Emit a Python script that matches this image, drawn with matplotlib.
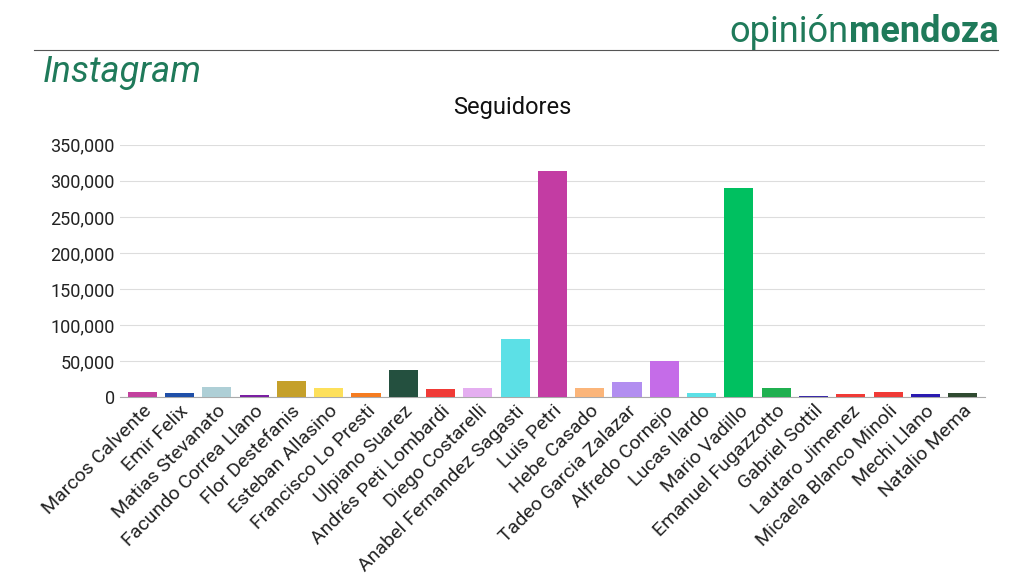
import matplotlib.pyplot as plt
from matplotlib.ticker import FuncFormatter

plt.rcParams["font.family"] = ["Roboto", "DejaVu Sans"]

# Data
nombres = ["Marcos Calvente", "Emir Felix", "Matias Stevanato", "Facundo Correa Llano",
           "Flor Destefanis", "Esteban Allasino", "Francisco Lo Presti", "Ulpiano Suarez",
           "Andrés Peti Lombardi", "Diego Costarelli", "Anabel Fernandez Sagasti", "Luis Petri",
           "Hebe Casado", "Tadeo Garcia Zalazar", "Alfredo Cornejo", "Lucas Ilardo",
           "Mario Vadillo", "Emanuel Fugazzotto", "Gabriel Sottil", "Lautaro Jimenez",
           "Micaela Blanco Minoli", "Mechi Llano", "Natalio Mema"]
seguidores = [7000, 5500, 14000, 3000, 22000, 13000, 6000, 37000, 11000, 13000, 81000,
              313000, 13000, 21000, 50000, 5000, 290000, 12000, 1500, 4000, 7000, 3500, 6000]
colores = ["#c2409e", "#1f4fa8", "#aecfd6", "#7b1fa2", "#c5a02a", "#fde05b", "#f57c20",
           "#24503f", "#f03a36", "#e4aef0", "#5ce0e6", "#c33ca3", "#fbb57a", "#b28ef0",
           "#c56ce8", "#5ce0e6", "#00c060", "#20b050", "#3a2aa8", "#f03a36", "#f03a36",
           "#2a1ab0", "#2f4a30"]

green = "#1f7a5a"
fig = plt.figure(figsize=(10.24, 5.77), dpi=100)
ax = fig.add_axes([0.117, 0.312, 0.845, 0.437])
ax.bar(range(len(nombres)), seguidores, color=colores, width=0.78, zorder=3)
ax.set_ylim(0, 350000)
ax.set_yticks(range(0, 350001, 50000))
ax.yaxis.set_major_formatter(FuncFormatter(lambda v, p: f"{int(v):,}"))
ax.set_xlim(-0.6, len(nombres) - 0.4)
ax.set_xticks(range(len(nombres)))
ax.set_xticklabels(nombres, rotation=45, ha="right", rotation_mode="anchor", fontsize=14, color="#222222")
ax.tick_params(axis="y", labelsize=13, colors="#222222", length=0)
ax.tick_params(axis="x", length=0)
ax.grid(axis="y", color="#dddddd", zorder=0)
for s in ["top", "right", "left"]:
    ax.spines[s].set_visible(False)
ax.spines["bottom"].set_color("#aaaaaa")

fig.text(0.5, 0.813, "Seguidores", ha="center", va="center", fontsize=17, color="#111111")
fig.text(0.042, 0.875, "Instagram", fontsize=26, style="italic", color=green, va="center")

# Logo: "mendoza" right aligned, "opinión" just left of it
m = fig.text(0.975, 0.945, "mendoza", fontsize=26, fontweight="bold", color=green, va="center", ha="right")
fig.canvas.draw()
bb = m.get_window_extent().transformed(fig.transFigure.inverted())
fig.text(bb.x0, 0.945, "opinión", fontsize=26, color=green, va="center", ha="right")

fig.lines.append(plt.Line2D([0.033, 0.975], [0.913, 0.913], color="#555555", lw=0.8, transform=fig.transFigure))
fig.savefig("out.png", dpi=100)
